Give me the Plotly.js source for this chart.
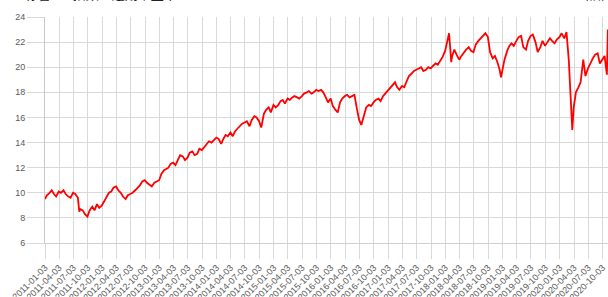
<!DOCTYPE html>
<html>
<head>
<meta charset="utf-8">
<script src="https://cdn.plot.ly/plotly-3.0.1.min.js"></script>
<style>html,body{margin:0;padding:0;background:#fff;}#chart{width:608px;height:297px;}</style>
</head>
<body>
<div id="chart"></div>
<script>
var dates = [
"2011-01-03","2011-01-15","2011-02-01","2011-02-15","2011-03-01","2011-03-15","2011-04-01","2011-04-15","2011-05-01","2011-05-15","2011-06-01","2011-06-15","2011-07-01","2011-07-15","2011-08-01","2011-08-10","2011-08-15","2011-09-01","2011-09-15","2011-10-01","2011-10-15","2011-11-01","2011-11-15","2011-12-01","2011-12-15",
"2012-01-01","2012-01-15","2012-02-01","2012-02-15","2012-03-01","2012-03-15","2012-04-01","2012-04-15","2012-05-01","2012-05-15","2012-06-01","2012-06-15","2012-07-01","2012-07-15","2012-08-01","2012-08-15","2012-09-01","2012-09-15","2012-10-01","2012-10-15","2012-11-01","2012-11-15","2012-12-01","2012-12-15",
"2013-01-01","2013-01-15","2013-02-01","2013-02-15","2013-03-01","2013-03-15","2013-04-01","2013-04-15","2013-05-01","2013-05-15","2013-06-01","2013-06-15","2013-07-01","2013-07-15","2013-08-01","2013-08-15","2013-09-01","2013-09-15","2013-10-01","2013-10-15","2013-11-01","2013-11-15","2013-12-01","2013-12-15",
"2014-01-01","2014-01-15","2014-02-01","2014-02-15","2014-03-01","2014-03-15","2014-04-01","2014-04-15","2014-05-01","2014-05-15","2014-06-01","2014-06-15","2014-07-01","2014-07-15","2014-08-01","2014-08-15","2014-09-01","2014-09-15","2014-10-01","2014-10-15","2014-11-01","2014-11-15","2014-12-01","2014-12-15",
"2015-01-01","2015-01-15","2015-02-01","2015-02-15","2015-03-01","2015-03-15","2015-04-01","2015-04-15","2015-05-01","2015-05-15","2015-06-01","2015-06-15","2015-07-01","2015-07-15","2015-08-01","2015-08-15","2015-09-01","2015-09-15","2015-10-01","2015-10-15","2015-11-01","2015-11-15","2015-12-01","2015-12-15",
"2016-01-01","2016-01-15","2016-02-01","2016-02-15","2016-03-01","2016-03-15","2016-04-01","2016-04-15","2016-05-01","2016-05-15","2016-06-01","2016-06-15","2016-07-01","2016-07-15","2016-08-01","2016-08-15","2016-09-01","2016-09-15","2016-10-01","2016-10-15","2016-11-01","2016-11-15","2016-12-01","2016-12-15",
"2017-01-01","2017-01-15","2017-02-01","2017-02-15","2017-03-01","2017-03-15","2017-04-01","2017-04-15","2017-05-01","2017-05-15","2017-06-01","2017-06-15","2017-07-01","2017-07-15","2017-08-01","2017-08-15","2017-09-01","2017-09-15","2017-10-01","2017-10-15","2017-11-01","2017-11-15","2017-12-01","2017-12-15",
"2018-01-01","2018-01-15","2018-01-26","2018-02-01","2018-02-09","2018-02-15","2018-03-01","2018-03-15","2018-04-01","2018-04-15","2018-05-01","2018-05-15","2018-06-01","2018-06-15","2018-07-01","2018-07-15","2018-08-01","2018-08-15","2018-09-01","2018-09-15","2018-10-01","2018-10-15","2018-11-01","2018-11-15","2018-12-01","2018-12-15","2018-12-24",
"2019-01-01","2019-01-15","2019-02-01","2019-02-15","2019-03-01","2019-03-15","2019-04-01","2019-04-15","2019-05-01","2019-05-15","2019-06-01","2019-06-15","2019-07-01","2019-07-15","2019-08-01","2019-08-15","2019-09-01","2019-09-15","2019-10-01","2019-10-15","2019-11-01","2019-11-15","2019-12-01","2019-12-15",
"2020-01-01","2020-01-15","2020-02-01","2020-02-15","2020-03-01","2020-03-10","2020-03-23","2020-04-01","2020-04-15","2020-05-01","2020-05-15","2020-06-01","2020-06-15","2020-07-01","2020-07-15","2020-08-01","2020-08-15","2020-09-01","2020-09-15","2020-10-01","2020-10-15","2020-10-30","2020-11-05"
];
var values = [
9.5,9.8,10.0,10.2,9.9,9.7,10.1,10.0,10.2,9.9,9.7,9.6,10.0,9.9,9.6,8.5,8.7,8.6,8.3,8.1,8.6,8.9,8.6,9.1,8.8,
9.0,9.3,9.7,10.0,10.1,10.4,10.5,10.2,10.0,9.7,9.5,9.8,9.9,10.0,10.2,10.4,10.6,10.9,11.0,10.8,10.6,10.5,10.8,10.9,
11.0,11.5,11.8,11.9,12.0,12.3,12.4,12.2,12.7,13.0,12.9,12.6,12.8,13.2,13.3,13.0,13.1,13.5,13.4,13.6,13.9,14.1,14.0,14.2,
14.4,14.3,13.9,14.3,14.6,14.5,14.8,14.5,14.9,15.1,15.3,15.5,15.6,15.7,15.3,15.8,16.1,16.0,15.7,15.2,16.3,16.6,16.8,16.4,
17.0,16.8,17.0,17.3,17.4,17.1,17.5,17.4,17.6,17.7,17.6,17.5,17.7,17.9,18.0,18.1,17.9,18.0,18.2,18.1,18.2,18.0,17.6,17.2,
17.5,16.9,16.6,16.4,17.2,17.5,17.7,17.8,17.6,17.7,17.8,16.8,15.8,15.4,16.2,16.8,17.0,16.9,17.2,17.4,17.5,17.3,17.7,17.9,
18.1,18.3,18.6,18.8,18.4,18.2,18.5,18.4,18.9,19.3,19.5,19.7,19.8,19.9,20.0,19.7,19.8,20.0,19.9,20.1,20.3,20.2,20.5,20.8,
21.3,22.0,22.7,21.8,20.4,20.9,21.4,21.0,20.6,20.9,21.2,21.4,21.6,21.3,21.2,21.8,22.1,22.3,22.5,22.7,22.4,21.2,20.7,20.9,20.4,19.8,19.2,
19.8,20.6,21.3,21.7,21.9,21.7,22.1,22.4,22.5,21.6,21.4,22.1,22.5,22.6,22.0,21.2,21.6,22.1,21.7,22.0,22.3,22.1,21.9,22.2,
22.4,22.7,22.3,22.8,20.5,18.2,15.0,16.8,18.0,18.4,18.8,20.6,19.3,19.9,20.3,20.7,21.0,21.1,20.3,20.6,20.9,19.4,23.0
];
var yTicks = [6,8,10,12,14,16,18,20,22,24];
var titleText = "标普500指数：远期市盈率";
var unitText = "(倍)";

var trace = {
  x: dates, y: values, type: "scatter", mode: "lines",
  line: {color: "#ff0000", width: 1.8}, hoverinfo: "skip"
};
var layout = {
  width: 608, height: 297,
  margin: {l: 45, r: 0, t: 17, b: 54, pad: 0},
  paper_bgcolor: "#ffffff", plot_bgcolor: "#ffffff",
  showlegend: false,
  font: {family: "Liberation Sans, Arial, sans-serif", size: 9, color: "#595959"},
  xaxis: {
    type: "date", range: ["2011-01-03", "2020-11-06"],
    tick0: "2011-01-03", dtick: "M3", tickformat: "%Y-%m-%d",
    tickangle: -45, ticks: "outside", ticklen: 15, tickcolor: "#d9d9d9", tickwidth: 1,
    showgrid: true, gridcolor: "#d9d9d9", gridwidth: 1,
    showline: true, linecolor: "#d0d0d0", linewidth: 1,
    zeroline: false, automargin: false,
    tickfont: {size: 9, color: "#595959"}
  },
  yaxis: {
    range: [6, 24], tickvals: yTicks, ticktext: yTicks.map(String),
    ticks: "outside", ticklen: 17, tickcolor: "#d9d9d9", tickwidth: 1,
    showgrid: true, gridcolor: "#d9d9d9", gridwidth: 1,
    showline: true, linecolor: "#c8c8c8", linewidth: 1,
    zeroline: false, automargin: false,
    tickfont: {size: 9, color: "#595959"}
  },
  annotations: [
    {text: titleText, xref: "paper", yref: "paper", x: -0.039, y: 1.104, xanchor: "left", yanchor: "middle",
     showarrow: false, font: {family: "Noto Sans CJK SC", size: 13, color: "#222"}},
    {text: unitText, xref: "paper", yref: "paper", x: 1.0, y: 1.104, xanchor: "right", yanchor: "middle",
     showarrow: false, font: {family: "Noto Sans CJK SC", size: 13, color: "#222"}}
  ]
};
Plotly.newPlot("chart", [trace], layout, {displayModeBar: false, staticPlot: true});
</script>
</body>
</html>
